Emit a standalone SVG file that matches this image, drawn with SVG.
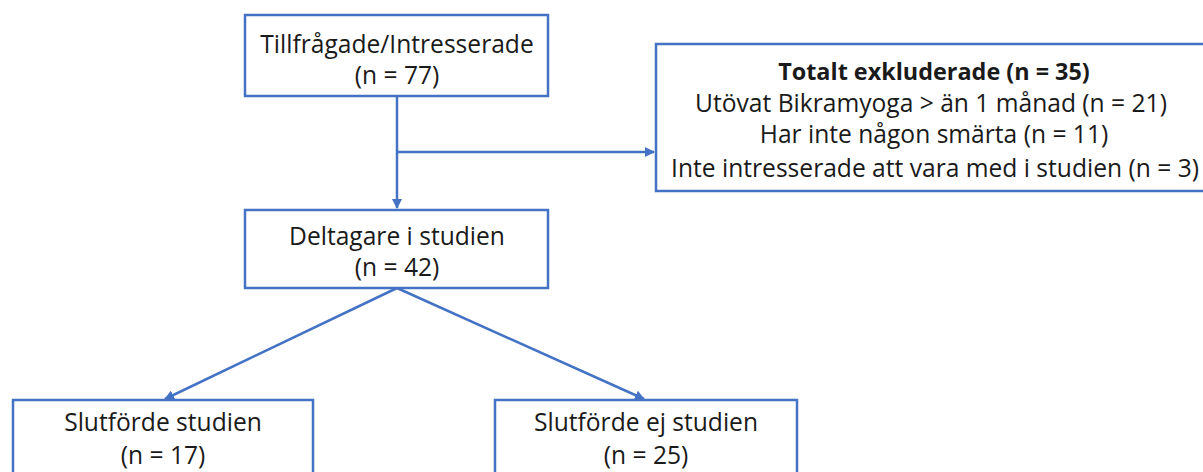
<svg xmlns="http://www.w3.org/2000/svg" width="1203" height="472" viewBox="0 0 1203 472">
<defs>
<style>
.box{fill:#fff;stroke:#4472C4;stroke-width:2.5}
.t{font-family:"Open Sans","Liberation Sans",Arial,sans-serif;font-size:24.6px;fill:#1a1a1a;text-anchor:middle}
.b{font-weight:bold;font-size:23.4px}
.c{fill:none;stroke:#4472C4;stroke-width:2.5}
</style>
<marker id="ah" viewBox="0 0 10 10" refX="9" refY="5" markerWidth="4" markerHeight="4" orient="auto" markerUnits="strokeWidth">
<path d="M0,0 L10,5 L0,10 z" fill="#4472C4"/>
</marker>
</defs>
<rect width="1203" height="472" fill="#fff"/>
<g id="connectors">
<line class="c" x1="397" y1="96" x2="397" y2="208" marker-end="url(#ah)"/>
<line class="c" x1="397" y1="152" x2="654" y2="152" marker-end="url(#ah)"/>
<line class="c" x1="397" y1="288" x2="165" y2="399" marker-end="url(#ah)"/>
<line class="c" x1="397" y1="288" x2="644" y2="399" marker-end="url(#ah)"/>
</g>
<g id="n1">
<rect class="box" x="245" y="15" width="303" height="81"/>
<text class="t" x="397" y="53">Tillfrågade/Intresserade</text>
<text class="t" x="397" y="84">(n = 77)</text>
</g>
<g id="excl">
<rect class="box" x="656" y="44" width="560" height="147"/>
<text class="t b" x="934" y="80">Totalt exkluderade (n = 35)</text>
<text class="t" x="931" y="112">Utövat Bikramyoga &gt; än 1 månad (n = 21)</text>
<text class="t" x="934" y="143">Har inte någon smärta (n = 11)</text>
<text class="t" x="935" y="177">Inte intresserade att vara med i studien (n = 3)</text>
</g>
<g id="n2">
<rect class="box" x="245" y="210" width="303" height="78"/>
<text class="t" x="397" y="245">Deltagare i studien</text>
<text class="t" x="397" y="276">(n = 42)</text>
</g>
<g id="n3">
<rect class="box" x="13" y="400" width="300" height="90"/>
<text class="t" x="163" y="431">Slutförde studien</text>
<text class="t" x="163" y="464">(n = 17)</text>
</g>
<g id="n4">
<rect class="box" x="495" y="400" width="302" height="90"/>
<text class="t" x="646" y="431">Slutförde ej studien</text>
<text class="t" x="646" y="464">(n = 25)</text>
</g>
</svg>
